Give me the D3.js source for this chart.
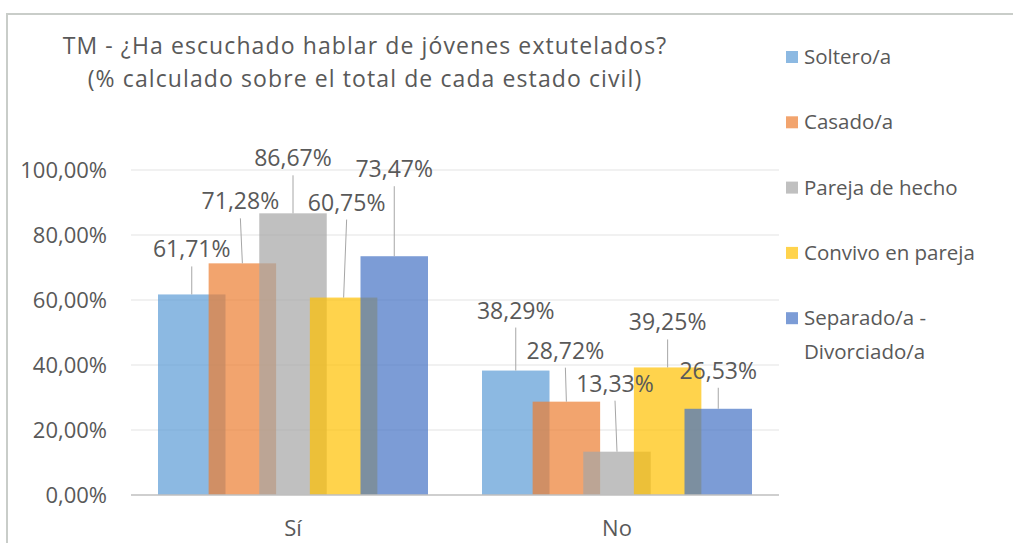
<!DOCTYPE html>
<html>
<head>
<meta charset="utf-8">
<script src="https://cdn.jsdelivr.net/npm/d3@7"></script>
<style>
  body { margin: 0; background: #fff; }
  svg text { font-family: "Open Sans", sans-serif; fill: #595959; }
</style>
</head>
<body>
<div id="chart"></div>
<script>
const categories = ["Sí", "No"];
const series = ["Soltero/a", "Casado/a", "Pareja de hecho", "Convivo en pareja", "Separado/a - Divorciado/a"];
const soltero = [61.71, 38.29];
const casado = [71.28, 28.72];
const pareja = [86.67, 13.33];
const convivo = [60.75, 39.25];
const separado = [73.47, 26.53];
const yTicks = [0, 20, 40, 60, 80, 100];
const titleLines = ["TM - ¿Ha escuchado hablar de jóvenes extutelados?", "(% calculado sobre el total de cada estado civil)"];

// manual label nudges (px above bar top, px sideways), as placed in the original
const labelLift = [[37, 52], [54, 43], [47, 60], [87, 37], [79, 30]];
const labelShift = [[0, 0], [-2, -1], [0, -2], [3, 0], [0, 0]];

const values = [soltero, casado, pareja, convivo, separado];
const colors = ["#5b9bd5", "#ed7d31", "#a5a5a5", "#ffc000", "#4472c4"];

const width = 1013;
const height = 543;

const svg = d3.select("#chart").append("svg").attr("width", width).attr("height", height);

// outer frame
svg.append("rect")
  .attr("x", 7).attr("y", 14)
  .attr("width", width + 20).attr("height", height + 20)
  .attr("fill", "none").attr("stroke", "#c9cdc9").attr("stroke-width", 2);

const x = d3.scaleBand().domain(categories).range([131, 779]).padding(0);
const y = d3.scaleLinear().domain([0, 100]).range([495, 170]);

const barW = x.bandwidth() / 4.8;
const offset = d3.scalePoint().domain(series).range([-2 * barW, -2 * barW + 3 * barW]);

// gridlines
svg.append("g")
  .selectAll("line")
  .data(yTicks.filter((d) => d > 0))
  .enter()
  .append("line")
  .attr("x1", 131).attr("x2", 779)
  .attr("y1", (d) => y(d)).attr("y2", (d) => y(d))
  .attr("stroke", "#e3e3e3").attr("stroke-width", 1);

// y axis labels
const fmt = (d) => d.toFixed(2).replace(".", ",") + "%";
svg.append("g")
  .selectAll("text")
  .data(yTicks)
  .enter()
  .append("text")
  .attr("x", 107)
  .attr("y", (d) => y(d) + 8)
  .attr("text-anchor", "end")
  .style("font-size", "22px")
  .text(fmt);

// bars
series.forEach((s, i) => {
  svg.append("g")
    .selectAll("rect")
    .data(values[i])
    .enter()
    .append("rect")
    .attr("x", (d, j) => x(categories[j]) + x.bandwidth() / 2 + offset(s))
    .attr("y", (d) => y(d))
    .attr("width", barW)
    .attr("height", (d) => y(0) - y(d))
    .attr("fill", colors[i])
    .attr("fill-opacity", 0.7);
});

// baseline
svg.append("line")
  .attr("x1", 131).attr("x2", 779)
  .attr("y1", y(0)).attr("y2", y(0))
  .attr("stroke", "#bfbfbf").attr("stroke-width", 1.5);

// data labels with leader lines
series.forEach((s, i) => {
  values[i].forEach((v, j) => {
    const cx = x(categories[j]) + x.bandwidth() / 2 + offset(s) + barW / 2;
    const top = y(v);
    const lx = cx + labelShift[i][j];
    const ly = top - labelLift[i][j];
    svg.append("line")
      .attr("x1", lx).attr("y1", ly + 9)
      .attr("x2", cx).attr("y2", top)
      .attr("stroke", "#a6a6a6").attr("stroke-width", 1);
    svg.append("text")
      .attr("x", lx)
      .attr("y", ly)
      .attr("text-anchor", "middle")
      .style("font-size", "23px")
      .text(fmt(v));
  });
});

// category labels
svg.append("g")
  .selectAll("text")
  .data(categories)
  .enter()
  .append("text")
  .attr("x", (d) => x(d) + x.bandwidth() / 2)
  .attr("y", 536)
  .attr("text-anchor", "middle")
  .style("font-size", "22px")
  .text((d) => d);

// title
svg.append("g")
  .selectAll("text")
  .data(titleLines)
  .enter()
  .append("text")
  .attr("x", 365)
  .attr("y", (d, i) => 54 + i * 33)
  .attr("text-anchor", "middle")
  .style("font-size", "23px")
  .style("letter-spacing", "1.1px")
  .text((d) => d);

// legend
const legend = svg.append("g")
  .selectAll("g")
  .data(series)
  .enter()
  .append("g")
  .attr("transform", (d, i) => `translate(786, ${57 + i * 65.3})`);

legend.append("rect")
  .attr("x", 0).attr("y", -6)
  .attr("width", 12).attr("height", 12)
  .attr("fill", (d, i) => colors[i])
  .attr("fill-opacity", 0.7);

legend.append("text")
  .attr("x", 18)
  .attr("y", 7)
  .style("font-size", "20.5px")
  .selectAll("tspan")
  .data((d) => (d.includes(" - ") ? [d.split(" - ")[0] + " -", d.split(" - ")[1]] : [d]))
  .enter()
  .append("tspan")
  .attr("x", 18)
  .attr("dy", (d, i) => (i === 0 ? 0 : 34))
  .text((d) => d);
</script>
</body>
</html>
